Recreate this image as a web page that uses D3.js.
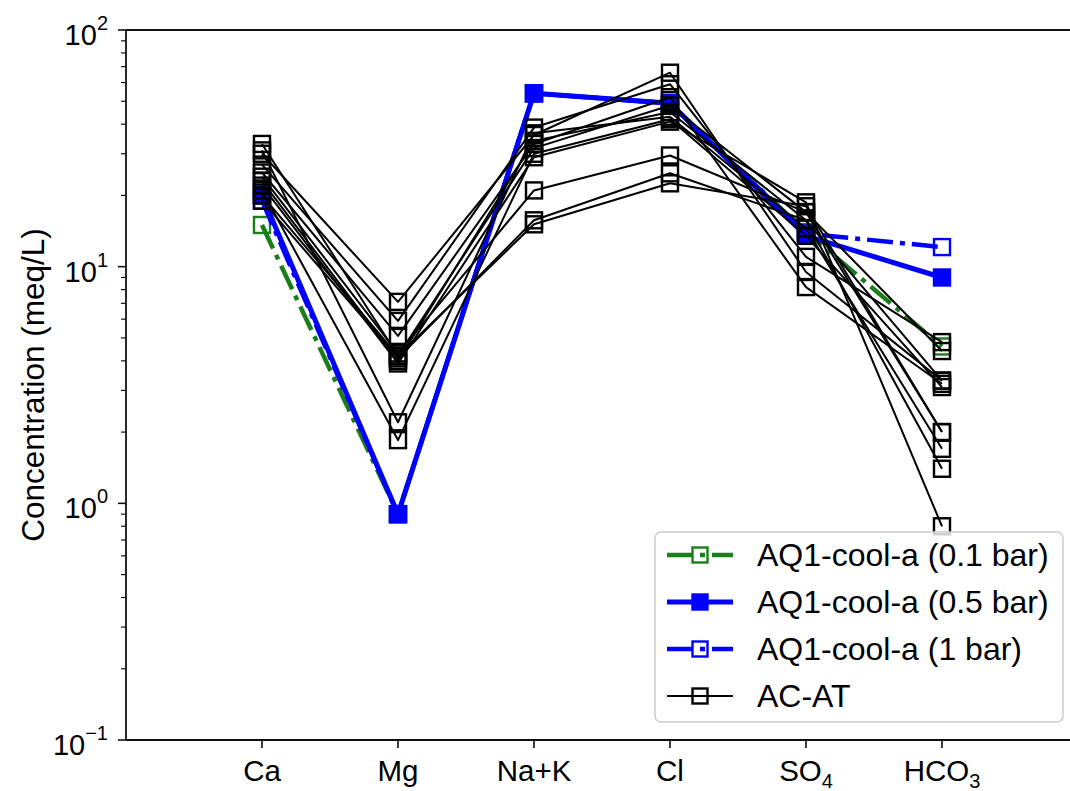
<!DOCTYPE html>
<html>
<head>
<meta charset="utf-8">
<script src="https://cdn.jsdelivr.net/npm/d3@7"></script>
<style>
  html, body { margin: 0; padding: 0; background: #fff; }
  svg { display: block; }
  text { font-family: "Liberation Sans", Arial, sans-serif; fill: #000; }
</style>
</head>
<body>
<svg id="chart" width="1070" height="791"></svg>
<script>
// ---------------- data ----------------
const categories = ["Ca", "Mg", "Na+K", "Cl", "SO4", "HCO3"];
const categoryLabels = [["Ca", ""], ["Mg", ""], ["Na+K", ""], ["Cl", ""], ["SO", "4"], ["HCO", "3"]];

const aq1_01bar = [15, 0.9, 54, 49, 14, 4.6];
const aq1_05bar = [20, 0.9, 54, 49, 13.5, 9.0];
const aq1_1bar  = [19, 0.9, 54, 49, 13.8, 12.1];

const acat = [
  [30, 7.1, 36, 66, 9.5, 3.3],
  [27, 5.9, 38.7, 59, 11, 4.8],
  [25, 5.1, 33, 52, 8.2, 3.2],
  [33, 4.2, 31.7, 48, 17, 2.0],
  [23, 4.0, 34, 45, 15.7, 1.4],
  [22, 3.9, 29, 41, 18.7, 0.8],
  [31, 2.2, 36.6, 43, 14.5, 1.7],
  [21, 1.85, 30, 42, 13.5, 3.1],
  [24, 4.3, 21, 29.5, 17, 4.4],
  [19, 4.1, 15.7, 24.8, 15.7, 3.3],
  [20, 4.2, 15.1, 22.5, 18, 2.0]
];

const yTickExponents = [-1, 0, 1, 2];
const yLabel = "Concentration (meq/L)";
const legendLabels = ["AQ1-cool-a (0.1 bar)", "AQ1-cool-a (0.5 bar)", "AQ1-cool-a (1 bar)", "AC-AT"];

// ---------------- styles ----------------
const series = [
  { values: aq1_01bar, color: "#1a7f1a", width: 4.5, dash: "26,7,5,7", fill: "none", msize: 16, mstroke: 2.4 },
  { values: aq1_05bar, color: "#0000ff", width: 5, dash: null, fill: "#0000ff", msize: 16, mstroke: 2.4 },
  { values: aq1_1bar,  color: "#0000ff", width: 4.5, dash: "26,7,5,7", fill: "none", msize: 16, mstroke: 2.4 }
];
const blackStyle = { color: "#000", width: 2, dash: null, fill: "none", msize: 16, mstroke: 2.4 };

// ---------------- layout ----------------
const svg = d3.select("#chart");
const pLeft = 126, pRight = 1078, pTop = 30, pBottom = 740;

const x = d3.scaleLinear().domain([-1, categories.length]).range([pLeft, pRight]);
const y = d3.scaleLog().domain([0.1, 100]).range([pBottom, pTop]);

const plot = svg.append("g");
const line = d3.line().x((d, i) => x(i)).y(d => y(d));

function drawSeries(s) {
  const g = plot.append("g");
  g.append("path")
    .attr("d", line(s.values))
    .attr("fill", "none")
    .attr("stroke", s.color)
    .attr("stroke-width", s.width)
    .attr("stroke-linejoin", "round")
    .attr("stroke-dasharray", s.dash);
  g.selectAll("rect").data(s.values).enter().append("rect")
    .attr("x", (d, i) => x(i) - s.msize / 2)
    .attr("y", d => y(d) - s.msize / 2)
    .attr("width", s.msize)
    .attr("height", s.msize)
    .attr("fill", s.fill)
    .attr("stroke", s.color)
    .attr("stroke-width", s.mstroke);
}
series.forEach(drawSeries);
acat.forEach(v => drawSeries(Object.assign({}, blackStyle, { values: v })));

// ---------------- axes ----------------
const axisColor = "#111";
svg.append("line").attr("x1", pLeft).attr("x2", pLeft).attr("y1", pTop).attr("y2", pBottom)
  .attr("stroke", axisColor).attr("stroke-width", 1.8);
svg.append("line").attr("x1", pLeft).attr("x2", 1070).attr("y1", pBottom).attr("y2", pBottom)
  .attr("stroke", axisColor).attr("stroke-width", 1.8);
svg.append("line").attr("x1", pLeft).attr("x2", 1070).attr("y1", pTop).attr("y2", pTop)
  .attr("stroke", axisColor).attr("stroke-width", 1.8);

yTickExponents.forEach(e => {
  const v = Math.pow(10, e);
  const yy = y(v);
  svg.append("line").attr("x1", pLeft - 8).attr("x2", pLeft).attr("y1", yy).attr("y2", yy)
    .attr("stroke", axisColor).attr("stroke-width", 1.6);
  const t = svg.append("text").attr("x", 108).attr("y", yy + 15)
    .attr("text-anchor", "end").style("font-size", "29px");
  t.append("tspan").text("10");
  t.append("tspan").attr("dy", -15).style("font-size", "20px").text(e < 0 ? "\u2212" + Math.abs(e) : String(e));
});
for (let e = -1; e < 2; e++) {
  for (let m = 2; m <= 9; m++) {
    const yy = y(m * Math.pow(10, e));
    svg.append("line").attr("x1", pLeft - 5).attr("x2", pLeft).attr("y1", yy).attr("y2", yy)
      .attr("stroke", axisColor).attr("stroke-width", 1.2);
  }
}
categoryLabels.forEach((lab, i) => {
  const xx = x(i);
  svg.append("line").attr("x1", xx).attr("x2", xx).attr("y1", pBottom).attr("y2", pBottom + 8)
    .attr("stroke", axisColor).attr("stroke-width", 1.6);
  const t = svg.append("text").attr("x", xx).attr("y", 781)
    .attr("text-anchor", "middle").style("font-size", "29.5px");
  t.append("tspan").text(lab[0]);
  if (lab[1]) t.append("tspan").attr("dy", 7).style("font-size", "20px").text(lab[1]);
});

svg.append("text")
  .attr("transform", "translate(44,385) rotate(-90)")
  .attr("text-anchor", "middle")
  .style("font-size", "31.5px")
  .text(yLabel);

// ---------------- legend ----------------
const lg = svg.append("g");
lg.append("rect").attr("x", 655).attr("y", 532).attr("width", 408).attr("height", 190)
  .attr("rx", 6).attr("ry", 6)
  .attr("fill", "rgba(255,255,255,0.8)")
  .attr("stroke", "#cccccc").attr("stroke-width", 1.5);
const legendStyles = [series[0], series[1], series[2], blackStyle];
legendStyles.forEach((s, i) => {
  const cy = 555 + i * 47;
  lg.append("line").attr("x1", 667).attr("x2", 733).attr("y1", cy).attr("y2", cy)
    .attr("stroke", s.color).attr("stroke-width", s.width)
    .attr("stroke-dasharray", s.dash);
  const ms = s.msize - 1;
  lg.append("rect").attr("x", 700 - ms / 2).attr("y", cy - ms / 2)
    .attr("width", ms).attr("height", ms)
    .attr("fill", s.fill === "none" ? "none" : s.fill)
    .attr("stroke", s.color).attr("stroke-width", s.mstroke);
  lg.append("text").attr("x", 757).attr("y", cy + 11)
    .style("font-size", "32px").text(legendLabels[i]);
});
</script>
</body>
</html>
